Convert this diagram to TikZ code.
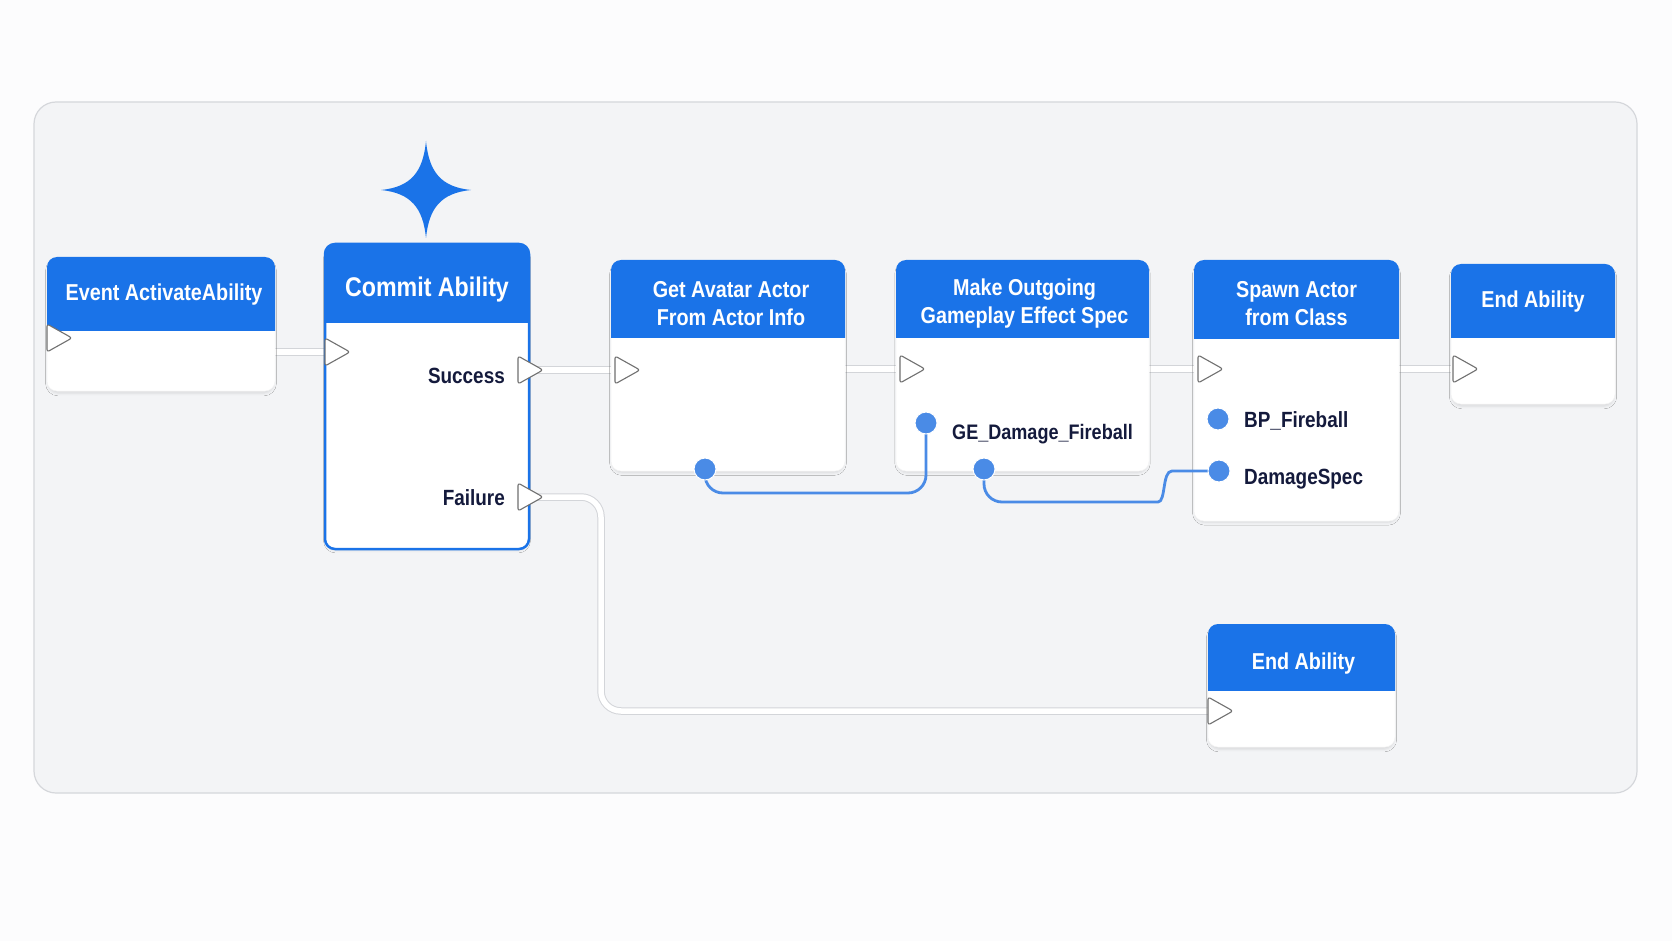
\documentclass[tikz,border=0pt]{standalone}
\usepackage{fontspec}
\newfontfamily\ui{Liberation Sans}[FakeStretch=0.86]
\usetikzlibrary{shadows.blur,calc}
\definecolor{hdr}{HTML}{1A73E8}
\definecolor{bgpage}{HTML}{FCFCFD}
\definecolor{panel}{HTML}{F3F4F6}
\definecolor{panelborder}{HTML}{D5D7DB}
\definecolor{pinblue}{HTML}{4A8BE6}
\definecolor{navy}{HTML}{141A3C}
\definecolor{pingray}{HTML}{707070}
\definecolor{wireedge}{HTML}{D3D5D9}
\tikzset{
  bodybox/.style={draw=black!4, line width=0.5pt, fill=white, rounded corners=10pt, inner sep=0pt,
    blur shadow={shadow xshift=0pt, shadow yshift=-3pt, shadow blur radius=2.5pt, shadow opacity=10, shadow scale=0.99}},
  titletext/.style={text=white, font=\ui\bfseries\fontsize{23}{28}\selectfont, align=center, inner sep=0pt},
  bigtitle/.style={text=white, font=\ui\bfseries\fontsize{27}{32}\selectfont, align=center, inner sep=0pt},
  pinlabel/.style={text=navy, font=\ui\bfseries\fontsize{22}{26}\selectfont, inner sep=0pt},
  execpin/.style={draw=pingray, fill=white, line width=1.1pt, rounded corners=2.5pt, line join=round},
  execwire/.style={draw=wireedge, double=white, double distance=5.5pt, line width=1pt},
  datawire/.style={draw=pinblue, line width=2.8pt},
  datadot/.style={circle, fill=pinblue, draw=white, line width=1pt, minimum size=22pt, inner sep=0pt},
}
% name, x1, y1, x2, y2, header bottom, title, title style
\newcommand\bpbox[8]{%
  \node[bodybox, minimum width={#4-#2}, minimum height={#5-#3}] (#1) at ({(#2+#4)/2},{(#3+#5)/2}) {};
  \begin{scope}
    \clip (#2,#3) rectangle (#4,#6);
    \fill[hdr, rounded corners=10pt] (#2,#3) rectangle (#4,#5);
  \end{scope}
  \node[#8] (#1-t) at ({(#2+#4)/2},{(#3+#6)/2}) {#7};
}
\newcommand\execpinat[3]{%
  \coordinate (#1) at (#2,#3);
  \draw[execpin] ($(#1)+(0,-14)$) -- ++(25,14) -- ++(-25,14) -- cycle;
}
\begin{document}
\begin{tikzpicture}[x=1pt,y=-1pt]
\useasboundingbox (0,0) rectangle (1672,941);
\fill[bgpage] (0,0) rectangle (1672,941);
\draw[fill=panel, draw=panelborder, line width=1.2pt, rounded corners=22pt] (34,102) rectangle (1637,793);

% pin coordinates (for wires)
\coordinate (ev-in) at (47,338);
\coordinate (cm-in) at (325,352);
\coordinate (cm-s) at (518,370);
\coordinate (cm-f) at (518,497);
\coordinate (ga-in) at (615,370);
\coordinate (mk-in) at (900,369);
\coordinate (sp-in) at (1198,369);
\coordinate (en-in) at (1453,369);
\coordinate (e2-in) at (1208,711);
\coordinate (w3) at (601,711);

% exec wires (under boxes)
\draw[execwire] (275,352) -- (cm-in);
\draw[execwire] (cm-s) -- (ga-in);
\draw[execwire] (845,369) -- (mk-in);
\draw[execwire] (1149,369) -- (sp-in);
\draw[execwire] (1399,369) -- (en-in);
\draw[execwire, rounded corners=20pt] (cm-f) -| (w3) -- (e2-in);

% boxes
\bpbox{ev}{47}{257}{275}{391}{330}{Event ActivateAbility}{titletext, xshift=3pt, yshift=-1pt}
\bpbox{cm}{325}{244}{529}{549}{322}{Commit Ability}{bigtitle, yshift=-7pt}
\draw[hdr, line width=2.5pt, rounded corners=10pt] (325,244) rectangle (529,549);
\bpbox{ga}{611}{260}{845}{471}{337}{Get Avatar Actor\\From Actor Info}{titletext, xshift=3pt, yshift=-5.5pt}
\bpbox{mk}{896}{260}{1149}{471}{337}{Make Outgoing\\Gameplay Effect Spec}{titletext, xshift=2pt, yshift=-5.5pt}
\bpbox{sp}{1194}{260}{1399}{521}{338}{Spawn Actor\\from Class}{titletext, yshift=-5pt}
\bpbox{en}{1451}{264}{1615}{404}{337}{End Ability}{titletext, yshift=-1.5pt}
\bpbox{e2}{1208}{624}{1395}{747}{690}{End Ability}{titletext, xshift=2pt, yshift=-7pt}

% star
\fill[hdr] (426,141) .. controls (429,172) and (441,187) .. (471,190)
  .. controls (441,193) and (429,208) .. (426,238)
  .. controls (423,208) and (411,193) .. (381,190)
  .. controls (411,187) and (423,172) .. cycle;

% exec pins
\execpinat{ev-p}{47}{338}
\execpinat{cm-p}{325}{352}
\execpinat{cm-sp}{518}{370}
\execpinat{cm-fp}{518}{497}
\execpinat{ga-p}{615}{370}
\execpinat{mk-p}{900}{369}
\execpinat{sp-p}{1198}{369}
\execpinat{en-p}{1453}{369}
\execpinat{e2-p}{1208}{711}

% pin labels
\node[pinlabel, anchor=east] (lsucc) at (505,376) {Success};
\node[pinlabel, anchor=east] (lfail) at (505,498) {Failure};
\node[pinlabel, anchor=west, font=\ui\bfseries\fontsize{21}{26}\selectfont] (lge) at (952,434) {GE\_Damage\_Fireball};
\node[pinlabel, anchor=west] (lbp) at (1244,421) {BP\_Fireball};
\node[pinlabel, anchor=west] (lds) at (1244,479) {DamageSpec};

% data dot positions
\coordinate (ga-o) at (705,469);
\coordinate (mk-ge) at (926,423);
\coordinate (mk-o) at (984,469);
\coordinate (sp-bp) at (1218,419);
\coordinate (sp-ds) at (1219,471);
\coordinate (w1) at (926,493);
\coordinate (w2) at (1140,502);

% data wires
\draw[datawire, rounded corners=18pt] (ga-o) |- (w1) -- (mk-ge);
\draw[datawire, rounded corners=18pt] (mk-o) |- (w2) .. controls (1166,502) and (1162,471) .. (1190,471) -- (sp-ds);

% data dots
\node[datadot] (d-ga) at (ga-o) {};
\node[datadot] (d-ge) at (mk-ge) {};
\node[datadot] (d-mk) at (mk-o) {};
\node[datadot] (d-bp) at (sp-bp) {};
\node[datadot] (d-ds) at (sp-ds) {};
\end{tikzpicture}
\end{document}
